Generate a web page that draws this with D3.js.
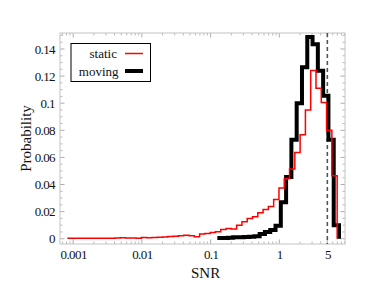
<!DOCTYPE html>
<html>
<head>
<meta charset="utf-8">
<script src="https://cdn.jsdelivr.net/npm/d3@7"></script>
<style>
body { margin: 0; background: #fff; }
text { font-family: "Liberation Serif", "DejaVu Serif", serif; fill: #111; }
</style>
</head>
<body>
<div id="chart"></div>
<script>
// histogram bins are log-spaced: lower edge of first bin (log10 SNR) and bin width in decades
var binStep = 0.077;
var staticFirstEdge = -3.085;
var movingFirstEdge = -0.902;

// probability per bin
var staticProb = [0.0003, 0.0003, 0.0003, 0.0003, 0.0003, 0.0004, 0.0003, 0.0004, 0.0004, 0.0005,
                  0.0008, 0.0005, 0.0006, 0.0004, 0.0009, 0.0007, 0.0009, 0.0011, 0.0013, 0.0016,
                  0.0018, 0.0021, 0.0026, 0.0022, 0.0014, 0.0034, 0.0038, 0.0045, 0.0052, 0.0068,
                  0.0075, 0.0072, 0.0100, 0.0125, 0.0150, 0.0162, 0.0192, 0.0215, 0.0238, 0.0290,
                  0.0375, 0.0443, 0.0515, 0.0637, 0.0768, 0.0950, 0.1242, 0.1110, 0.1006, 0.0800,
                  0.0465];
var movingProb = [0.0005, 0.0005, 0.0007, 0.0010, 0.0010, 0.0012, 0.0015, 0.0018, 0.0035, 0.0050,
                  0.0065, 0.0095, 0.0270, 0.0455, 0.0730, 0.1000, 0.1265, 0.1488, 0.1435, 0.1240,
                  0.1055, 0.0730, 0.0100];

var xTicks = [0.001, 0.01, 0.1, 1, 5];
var xTickLabels = ["0.001", "0.01", "0.1", "1", "5"];
var yTicks = [0, 0.02, 0.04, 0.06, 0.08, 0.1, 0.12, 0.14];
var yTickLabels = ["0", "0.02", "0.04", "0.06", "0.08", "0.1", "0.12", "0.14"];
var thresholdSNR = 5;
var seriesNames = ["static", "moving"];

var W = 365, H = 290;
var margin = {top: 33, right: 20, bottom: 46, left: 60};
var width = W - margin.left - margin.right,
    height = H - margin.top - margin.bottom;

var svg = d3.select("#chart").append("svg")
    .attr("width", W)
    .attr("height", H);
var g = svg.append("g")
    .attr("transform", "translate(" + margin.left + "," + margin.top + ")");

var x = d3.scaleLog()
    .domain([6.43e-4, 9.04])
    .range([0, width]);
var y = d3.scaleLinear()
    .domain([-0.0039, 0.1518])
    .range([height, 0]);

// minor ticks
var xMinor = [];
[0.0001, 0.001, 0.01, 0.1, 1].forEach(function(d) {
    for (var k = 2; k <= 9; k++) {
        var v = d * k;
        if (v > x.domain()[0] && v < x.domain()[1] && xTicks.indexOf(v) < 0) xMinor.push(v);
    }
});
var yMinor = d3.range(0, 0.151, 0.005).filter(function(v) {
    return Math.abs(Math.round(v / 0.02) * 0.02 - v) > 1e-6;
});

function tickLines(vals, len, color) {
    // bottom & top
    g.append("g").selectAll("line").data(vals).enter().append("line")
        .attr("x1", function(d) { return x(d); }).attr("x2", function(d) { return x(d); })
        .attr("y1", height).attr("y2", height - len)
        .attr("stroke", color).attr("stroke-width", 0.8);
    g.append("g").selectAll("line").data(vals).enter().append("line")
        .attr("x1", function(d) { return x(d); }).attr("x2", function(d) { return x(d); })
        .attr("y1", 0).attr("y2", len)
        .attr("stroke", color).attr("stroke-width", 0.8);
}
function yTickLines(vals, len, color) {
    g.append("g").selectAll("line").data(vals).enter().append("line")
        .attr("y1", function(d) { return y(d); }).attr("y2", function(d) { return y(d); })
        .attr("x1", 0).attr("x2", len)
        .attr("stroke", color).attr("stroke-width", 0.8);
    g.append("g").selectAll("line").data(vals).enter().append("line")
        .attr("y1", function(d) { return y(d); }).attr("y2", function(d) { return y(d); })
        .attr("x1", width).attr("x2", width - len)
        .attr("stroke", color).attr("stroke-width", 0.8);
}
tickLines(xMinor, 2.5, "#aaa");
tickLines(xTicks, 4.5, "#999");
yTickLines(yMinor, 2.5, "#aaa");
yTickLines(yTicks, 4.5, "#999");

// frame
g.append("rect")
    .attr("width", width).attr("height", height)
    .attr("fill", "none").attr("stroke", "#c4c4c4").attr("stroke-width", 1);

// tick labels via axes (no lines)
var xAxis = g.append("g")
    .attr("transform", "translate(0," + height + ")")
    .call(d3.axisBottom(x).tickValues(xTicks).tickSize(0).tickPadding(6)
        .tickFormat(function(d, i) { return xTickLabels[i]; }));
var yAxis = g.append("g")
    .call(d3.axisLeft(y).tickValues(yTicks).tickSize(0).tickPadding(5)
        .tickFormat(function(d, i) { return yTickLabels[i]; }));
[xAxis, yAxis].forEach(function(a) {
    a.select(".domain").remove();
    a.selectAll("text")
        .style("font-family", "'Liberation Serif', serif")
        .style("font-size", "13px")
        .style("letter-spacing", "-0.6px")
        .attr("fill", "#111");
});

// threshold line
g.append("line")
    .attr("x1", x(thresholdSNR)).attr("x2", x(thresholdSNR))
    .attr("y1", 0).attr("y2", height)
    .attr("stroke", "#555").attr("stroke-width", 1.6)
    .attr("stroke-dasharray", "4,3");

function stepPoints(firstEdge, probs) {
    var pts = [];
    probs.forEach(function(p, i) {
        pts.push([Math.pow(10, firstEdge + i * binStep), p]);
        pts.push([Math.pow(10, firstEdge + (i + 1) * binStep), p]);
    });
    pts.push([Math.pow(10, firstEdge + probs.length * binStep), 0]);
    return pts;
}
var line = d3.line()
    .x(function(d) { return x(d[0]); })
    .y(function(d) { return y(d[1]); });

g.append("path")
    .attr("d", line(stepPoints(movingFirstEdge, movingProb)))
    .attr("fill", "none").attr("stroke", "#000").attr("stroke-width", 4)
    .attr("stroke-linejoin", "miter");
g.append("path")
    .attr("d", line(stepPoints(staticFirstEdge, staticProb)))
    .attr("fill", "none").attr("stroke", "#f00").attr("stroke-width", 1.5);

// axis titles
svg.append("text")
    .attr("x", margin.left + x(0.1) - 5).attr("y", 278)
    .attr("text-anchor", "middle")
    .style("font-size", "15px")
    .text("SNR");
svg.append("text")
    .attr("transform", "translate(31," + (margin.top + height / 2) + ") rotate(-90)")
    .attr("text-anchor", "middle")
    .style("font-size", "15px")
    .text("Probability");

// legend
var leg = svg.append("g").attr("transform", "translate(71,43.5)");
leg.append("rect")
    .attr("width", 79.5).attr("height", 38)
    .attr("fill", "#fff").attr("stroke", "#000").attr("stroke-width", 1);
var legColors = ["#f00", "#000"], legWidths = [1.5, 4];
seriesNames.forEach(function(name, i) {
    var cy = 10 + i * 17.5;
    leg.append("text")
        .attr("x", 46 + i * 1.5).attr("y", cy + 4.5)
        .attr("text-anchor", "end")
        .style("font-size", "13px")
        .text(name);
    leg.append("line")
        .attr("x1", 54).attr("x2", 72)
        .attr("y1", cy).attr("y2", cy)
        .attr("stroke", legColors[i]).attr("stroke-width", legWidths[i]);
});
</script>
</body>
</html>
